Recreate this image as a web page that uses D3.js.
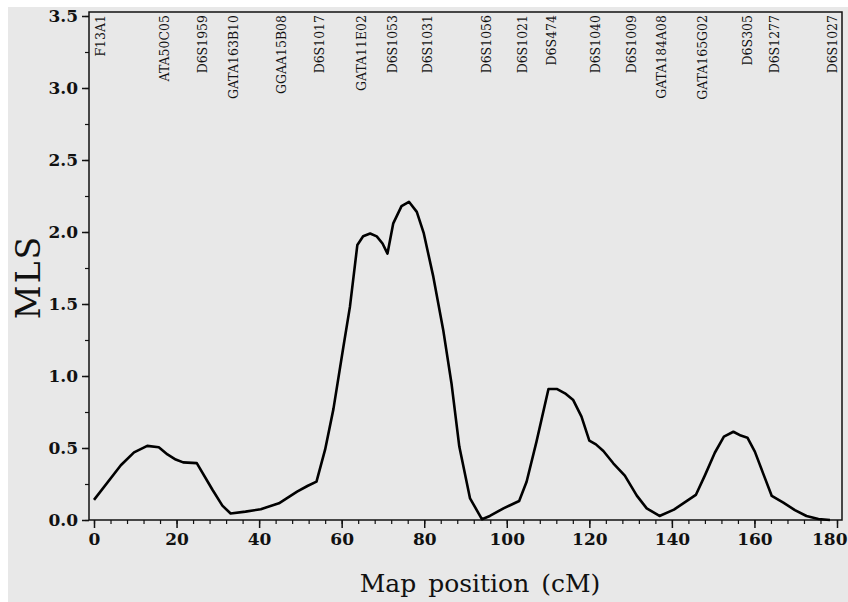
<!DOCTYPE html>
<html>
<head>
<meta charset="utf-8">
<script src="https://cdn.jsdelivr.net/npm/d3@7"></script>
<style>
  body { margin: 0; background: #fff; }
  text { font-family: "DejaVu Serif", serif; fill: #111; }
</style>
</head>
<body>
<div id="chart"></div>
<script>
// MLS curve
const positions = [0, 6.5, 9.7, 12.9, 15.7, 17.8, 19.8, 21.6, 24.9, 28.7, 31.1, 33.1, 36.7, 40.4, 44.8, 49.2, 51.7, 53.9,
  56.0, 58.0, 60.4, 62.0, 63.8, 65.2, 66.9, 68.5, 69.9, 71.1, 72.5, 74.5, 76.3, 78.2, 79.9, 82.2, 84.6, 86.6, 88.5,
  91.1, 94.0, 95.9, 99.2, 103.0, 104.8, 107.2, 110.1, 112.1, 114.1, 116.1, 118.1, 120.0, 121.6, 123.4, 125.8, 128.6,
  131.5, 133.9, 137.0, 140.5, 145.8, 148.0, 150.4, 152.6, 154.9, 156.7, 158.3, 160.1, 162.1, 164.2, 167.0, 169.8,
  172.6, 175.5, 178.3];
const mls = [0.14, 0.38, 0.47, 0.515, 0.505, 0.455, 0.42, 0.40, 0.395, 0.21, 0.10, 0.045, 0.058, 0.075, 0.116, 0.197, 0.236, 0.266,
  0.49, 0.77, 1.20, 1.48, 1.91, 1.97, 1.99, 1.97, 1.92, 1.85, 2.06, 2.18, 2.21, 2.14, 1.99, 1.69, 1.32, 0.95, 0.51,
  0.15, 0.005, 0.028, 0.081, 0.132, 0.266, 0.544, 0.91, 0.91, 0.88, 0.833, 0.718, 0.551, 0.525, 0.479, 0.394, 0.308,
  0.169, 0.081, 0.028, 0.072, 0.174, 0.31, 0.467, 0.579, 0.613, 0.586, 0.572, 0.475, 0.324, 0.167, 0.12, 0.069,
  0.028, 0.007, 0];

// markers along the top
const markerNames = ["F13A1", "ATA50C05", "D6S1959", "GATA163B10", "GGAA15B08", "D6S1017", "GATA11E02", "D6S1053",
  "D6S1031", "D6S1056", "D6S1021", "D6S474", "D6S1040", "D6S1009", "GATA184A08", "GATA165G02", "D6S305", "D6S1277", "D6S1027"];
const markerPos = [1.6, 17.2, 26.2, 33.7, 45.5, 54.7, 64.9, 72.2, 80.9, 95.2, 103.9, 110.9, 121.4, 130.3, 137.6, 147.3,
  158.2, 164.9, 179.0];

const xTicks = [0, 20, 40, 60, 80, 100, 120, 140, 160, 180];
const yTicks = [0, 0.5, 1.0, 1.5, 2.0, 2.5, 3.0, 3.5];

const width = 848, height = 602;
const box = {left: 89, right: 842, top: 12, bottom: 520};

const svg = d3.select("#chart")
  .append("svg")
    .attr("width", width)
    .attr("height", height);

// grey page
svg.append("rect")
  .attr("x", 8).attr("y", 7)
  .attr("width", width - 8).attr("height", height - 7)
  .attr("fill", "#e8e8e8");

const x = d3.scaleLinear()
  .domain([0, 180])
  .range([94, 837]);

const y = d3.scaleLinear()
  .domain([0, 3.5])
  .range([520, 16]);

// minor ticks
svg.append("g")
  .attr("transform", `translate(0,${box.bottom})`)
  .call(d3.axisBottom(x).tickValues(d3.range(0, 181, 4)).tickSize(4).tickFormat(""))
  .call(g => g.select(".domain").remove())
  .call(g => g.selectAll("line").attr("stroke", "#111").attr("stroke-width", 1.2));

svg.append("g")
  .attr("transform", `translate(${box.left},0)`)
  .call(d3.axisLeft(y).tickValues(d3.range(0, 3.51, 0.25)).tickSize(4).tickFormat(""))
  .call(g => g.select(".domain").remove())
  .call(g => g.selectAll("line").attr("stroke", "#111").attr("stroke-width", 1.2));

// major ticks
svg.append("g")
  .attr("transform", `translate(0,${box.bottom})`)
  .call(d3.axisBottom(x).tickValues(xTicks).tickSize(8).tickPadding(5).tickFormat(d3.format("d")))
  .call(g => g.select(".domain").remove())
  .call(g => g.selectAll("line").attr("stroke", "#111").attr("stroke-width", 1.5))
  .call(g => g.selectAll("text").attr("font-size", 17).attr("font-family", "DejaVu Serif Condensed, DejaVu Serif")
    .attr("font-weight", 600).attr("fill", "#111"))
  .call(g => g.selectAll("text").filter(d => d === 180).attr("text-anchor", "end").attr("dx", 10));

svg.append("g")
  .attr("transform", `translate(${box.left},0)`)
  .call(d3.axisLeft(y).tickValues(yTicks).tickSize(7).tickPadding(4).tickFormat(d3.format(".1f")))
  .call(g => g.select(".domain").remove())
  .call(g => g.selectAll("line").attr("stroke", "#111").attr("stroke-width", 1.5))
  .call(g => g.selectAll("text").attr("font-size", 17).attr("font-family", "DejaVu Serif Condensed, DejaVu Serif")
    .attr("font-weight", 600).attr("fill", "#111"));

// frame
svg.append("rect")
  .attr("x", box.left).attr("y", box.top)
  .attr("width", box.right - box.left).attr("height", box.bottom - box.top)
  .attr("fill", "none")
  .attr("stroke", "#111")
  .attr("stroke-width", 1.5);

// marker labels
svg.append("g")
  .selectAll("text")
  .data(markerNames)
  .join("text")
    .attr("transform", (d, i) => `translate(${x(markerPos[i])},15) rotate(-90)`)
    .attr("text-anchor", "end")
    .attr("dy", "0.36em")
    .attr("font-size", 12.5)
    .attr("font-family", "DejaVu Serif Condensed, DejaVu Serif")
    .text(d => d);

// the curve
const pts = positions.map((p, i) => [p, mls[i]]);
svg.append("path")
  .datum(pts)
  .attr("fill", "none")
  .attr("stroke", "#000")
  .attr("stroke-width", 2.6)
  .attr("stroke-linejoin", "round")
  .attr("d", d3.line()
    .x(d => x(d[0]))
    .y(d => y(d[1])));

// axis titles
svg.append("text")
  .attr("x", 480).attr("y", 592)
  .attr("text-anchor", "middle")
  .attr("font-size", 25)
  .attr("word-spacing", 4)
  .text("Map position (cM)");

svg.append("text")
  .attr("transform", "translate(40,277) rotate(-90)")
  .attr("text-anchor", "middle")
  .attr("font-size", 33)
  .attr("letter-spacing", 2)
  .text("MLS");
</script>
</body>
</html>
